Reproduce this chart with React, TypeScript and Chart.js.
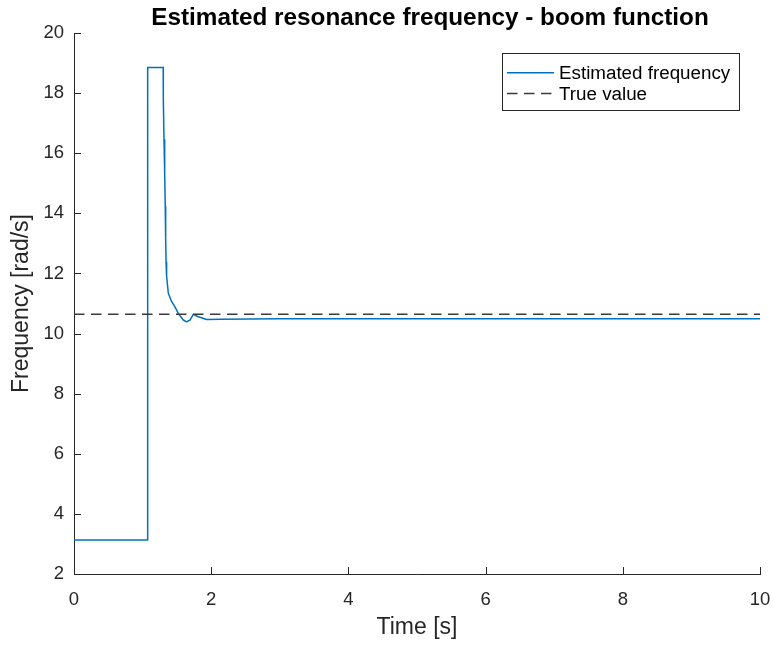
import React, { useEffect, useRef } from "react";
import { Chart, registerables } from "chart.js";

Chart.register(...registerables);

const titleText = "Estimated resonance frequency - boom function";
const xLabel = "Time [s]";
const yLabel = "Frequency [rad/s]";
const seriesLabels = ["Estimated frequency", "True value"];

const timeS = [0, 1.074, 1.074, 1.3, 1.302, 1.312, 1.322, 1.33, 1.336, 1.342, 1.35, 1.375, 1.424, 1.472, 1.52, 1.593, 1.643, 1.691, 1.739, 1.812, 1.934, 2.128, 3, 5, 10];
const freqEst = [3.13, 3.13, 18.85, 18.85, 17.8, 16.45, 15.3, 14.24, 13.2, 12.37, 11.9, 11.34, 11.06, 10.89, 10.67, 10.45, 10.39, 10.45, 10.64, 10.56, 10.47, 10.48, 10.49, 10.49, 10.49];
const trueTime = [0, 10];
const trueValue = [10.64, 10.64];

const xTicks = [0, 2, 4, 6, 8, 10];
const yTicks = [2, 4, 6, 8, 10, 12, 14, 16, 18, 20];

const FONT = "'Liberation Sans', Arial, sans-serif";
const AXIS = "#262626";
const BLUE = "#0072BD";

export default function App() {
  const ref = useRef<HTMLCanvasElement | null>(null);
  useEffect(() => {
    if (!ref.current) return;
    const overlay = {
      id: "overlay",
      afterDraw(chart: any) {
        const ctx = chart.ctx;
        const ca = chart.chartArea;
        const xs = chart.scales.x;
        const ys = chart.scales.y;
        ctx.save();
        ctx.strokeStyle = AXIS;
        ctx.lineWidth = 1;
        ctx.beginPath();
        yTicks.forEach((v) => {
          const y = Math.round(ys.getPixelForValue(v)) + 0.5;
          ctx.moveTo(ca.left, y);
          ctx.lineTo(ca.left + 7, y);
        });
        xTicks.forEach((v) => {
          const x = Math.round(xs.getPixelForValue(v)) + 0.5;
          ctx.moveTo(x, ca.bottom);
          ctx.lineTo(x, ca.bottom - 7);
        });
        ctx.stroke();
        ctx.fillStyle = "#000";
        ctx.font = `bold 24.3px ${FONT}`;
        ctx.textAlign = "center";
        ctx.textBaseline = "alphabetic";
        ctx.fillText(titleText, (ca.left + ca.right) / 2 + 13, 25);
        const bx = 502, by = 53, bw = 237, bh = 57;
        ctx.fillStyle = "#fff";
        ctx.fillRect(bx, by, bw, bh);
        ctx.strokeStyle = AXIS;
        ctx.lineWidth = 1;
        ctx.strokeRect(bx + 0.5, by + 0.5, bw, bh);
        const rows = [72.7, 93.5];
        chart.data.datasets.forEach((ds: any, i: number) => {
          const y = rows[i];
          ctx.beginPath();
          ctx.strokeStyle = ds.borderColor;
          ctx.lineWidth = ds.borderWidth;
          ctx.setLineDash(ds.borderDash || []);
          ctx.moveTo(507, y);
          ctx.lineTo(554, y);
          ctx.stroke();
          ctx.setLineDash([]);
          ctx.fillStyle = "#000";
          ctx.font = `18.8px ${FONT}`;
          ctx.textAlign = "left";
          ctx.textBaseline = "middle";
          ctx.fillText(ds.label, 559, y + 1);
        });
        ctx.restore();
      },
    };
    const chart = new Chart(ref.current, {
      type: "line",
      data: {
        datasets: [
          {
            label: seriesLabels[0],
            data: timeS.map((t, i) => ({ x: t, y: freqEst[i] })),
            borderColor: BLUE,
            borderWidth: 1.5,
            borderJoinStyle: "round",
            pointRadius: 0,
            tension: 0,
            fill: false,
            order: 1,
          },
          {
            label: seriesLabels[1],
            data: trueTime.map((t, i) => ({ x: t, y: trueValue[i] })),
            borderColor: "#3a3a3a",
            borderWidth: 1.4,
            borderDash: [10.5, 6.5],
            pointRadius: 0,
            fill: false,
            order: 0,
          },
        ],
      },
      options: {
        animation: false,
        responsive: true,
        maintainAspectRatio: false,
        layout: { padding: { top: 33, right: 14, left: 0, bottom: 0 } },
        plugins: { legend: { display: false }, tooltip: { enabled: false }, title: { display: false } },
        scales: {
          x: {
            type: "linear",
            min: 0,
            max: 10,
            afterBuildTicks: (s: any) => { s.ticks = xTicks.map((v) => ({ value: v })); },
            afterFit: (s: any) => { s.height = 71; s.paddingLeft = 0; s.paddingRight = 0; },
            grid: { display: false, drawTicks: false },
            border: { display: true, color: AXIS, width: 1 },
            ticks: { color: AXIS, font: { family: FONT, size: 18.5 }, padding: 15, maxRotation: 0 },
            title: { display: true, text: xLabel, color: AXIS, font: { family: FONT, size: 23 }, padding: { top: 0, bottom: 4 } },
          },
          y: {
            type: "linear",
            min: 2,
            max: 20,
            afterBuildTicks: (s: any) => { s.ticks = yTicks.map((v) => ({ value: v })); },
            afterFit: (s: any) => { s.width = 74; s.paddingTop = 0; s.paddingBottom = 0; },
            grid: { display: false, drawTicks: false },
            border: { display: true, color: AXIS, width: 1 },
            ticks: { color: AXIS, font: { family: FONT, size: 18.5 }, padding: 10 },
            title: { display: true, text: yLabel, color: AXIS, font: { family: FONT, size: 23 }, padding: { top: 8, bottom: 0 } },
          },
        },
      },
      plugins: [overlay],
    });
    return () => chart.destroy();
  }, []);
  return (
    <div style={{ position: "absolute", left: 0, top: 0, width: 774, height: 645, background: "#fff" }}>
      <canvas ref={ref} />
    </div>
  );
}
